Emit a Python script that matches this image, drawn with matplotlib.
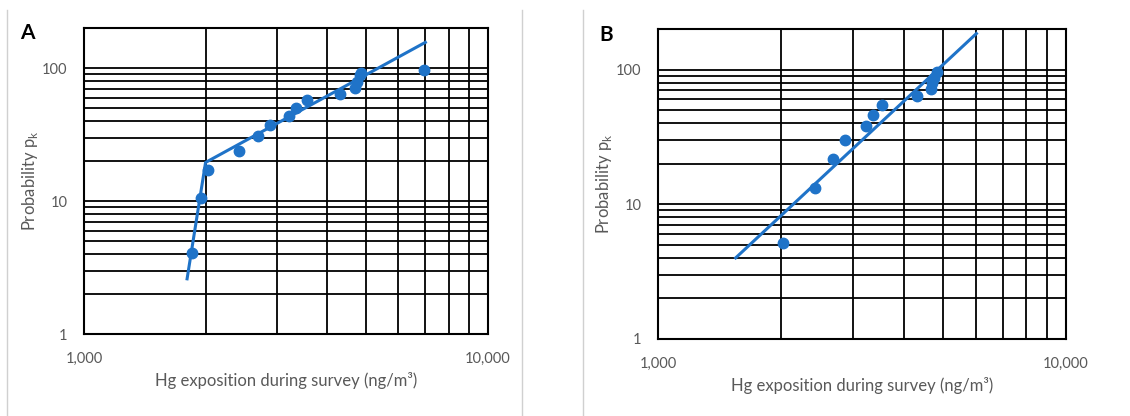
import numpy as np
import matplotlib.pyplot as plt
from matplotlib.ticker import NullFormatter
from matplotlib.lines import Line2D

plt.rcParams['font.family'] = ['Lato', 'DejaVu Sans']

# panel A data
a_x = [1850, 1945, 2025, 2420, 2695, 2890, 3225, 3350, 3560, 4315, 4700, 4750, 4815, 4860, 6960]
a_y = [4.1, 10.6, 17.2, 23.7, 30.7, 37.0, 43.7, 49.7, 57.0, 63.5, 70.3, 79.0, 88.0, 92.5, 96.0]
a_fit_x = [1800, 2000, 7000]
a_fit_y = [2.6, 19.5, 156]

# panel B data
b_x = [2020, 2430, 2690, 2880, 3230, 3360, 3540, 4320, 4660, 4690, 4750, 4840]
b_y = [5.15, 13.2, 21.5, 29.9, 38.1, 46.2, 54.6, 63.3, 71.4, 80.0, 87.0, 96.0]
b_fit_x = [1550, 6030]
b_fit_y = [4.0, 185]

x_minor = [2000, 3000, 4000, 5000, 6000, 7000, 8000, 9000]
y_major = [1, 10, 100]
y_minor = [2, 3, 4, 5, 6, 7, 8, 9, 20, 30, 40, 50, 60, 70, 80, 90]

blue = '#1f73c8'
grey = '#595959'

fig = plt.figure(figsize=(11.3, 4.16), dpi=100)


def panel(rect, xs, ys, fx, fy, letter, letter_pos):
    ax = fig.add_axes(rect)
    ax.set_xscale('log')
    ax.set_yscale('log')
    ax.set_xlim(1000, 10000)
    ax.set_ylim(1, 200)
    ax.set_xticks([1000, 10000])
    ax.set_xticklabels(['1,000', '10,000'])
    ax.set_xticks(x_minor, minor=True)
    ax.set_yticks(y_major)
    ax.set_yticklabels(['1', '10', '100'])
    ax.set_yticks(y_minor, minor=True)
    ax.xaxis.set_minor_formatter(NullFormatter())
    ax.yaxis.set_minor_formatter(NullFormatter())
    ax.tick_params(which='both', length=0, labelcolor=grey, labelsize=10.5)
    ax.tick_params(axis='x', pad=13)
    ax.tick_params(axis='y', pad=12)
    ax.grid(which='both', color='black', linewidth=1.3)
    for s in ax.spines.values():
        s.set_linewidth(1.5)
    ax.plot(fx, fy, color=blue, lw=2.2, zorder=3)
    ax.plot(xs, ys, 'o', color=blue, ms=7.5, zorder=4)
    ax.set_xlabel('Hg exposition during survey (ng/m³)', color=grey, fontsize=12, labelpad=4)
    ax.set_ylabel('Probability p$_\\mathregular{k}$', color=grey, fontsize=12, labelpad=1)
    fig.text(letter_pos[0], letter_pos[1], letter, fontsize=15, fontweight='bold', ha='left', va='center')
    return ax


panel([0.0743, 0.1971, 0.3575, 0.7356], a_x, a_y, a_fit_x, a_fit_y, 'A', (0.018, 0.92))
panel([0.5823, 0.1851, 0.3611, 0.7452], b_x, b_y, b_fit_x, b_fit_y, 'B', (0.530, 0.915))

# light separators
for xf in [0.006, 0.462, 0.516]:
    fig.add_artist(Line2D([xf, xf], [0, 0.975], color='#d0d0d0', lw=1))

fig.savefig('out.png', dpi=100)
